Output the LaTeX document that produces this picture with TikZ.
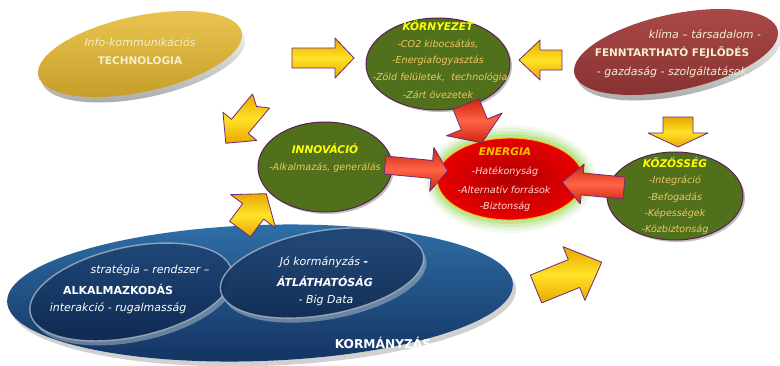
\documentclass[tikz,border=0pt]{standalone}
\usepackage{fontspec}
\setmainfont{DejaVu Sans}[BoldFont=* Bold, ItalicFont=* Oblique, BoldItalicFont=* Bold Oblique]
\usetikzlibrary{calc}
\definecolor{greenfill}{RGB}{80,112,28}
\definecolor{greenedge}{RGB}{92,31,85}
\definecolor{itemgold}{RGB}{240,200,96}
\definecolor{headyellow}{RGB}{255,255,0}
\definecolor{enred}{RGB}{232,0,0}
\definecolor{endark}{RGB}{175,0,0}
\definecolor{enhead}{RGB}{255,192,0}
\definecolor{enitem}{RGB}{255,216,216}
\definecolor{glowgreen}{RGB}{150,215,90}
\definecolor{goldtop}{RGB}{232,196,78}
\definecolor{goldbot}{RGB}{196,156,40}
\definecolor{marontop}{RGB}{170,72,72}
\definecolor{maronbot}{RGB}{134,48,48}
\definecolor{cream}{RGB}{242,240,206}
\definecolor{bluetop}{RGB}{46,110,166}
\definecolor{bluebot}{RGB}{19,50,96}
\definecolor{navytop}{RGB}{30,70,118}
\definecolor{navybot}{RGB}{14,40,80}
\definecolor{rimgrey}{RGB}{170,182,196}
\definecolor{arrowedge}{RGB}{112,40,120}
\definecolor{ylight}{RGB}{255,226,40}
\definecolor{ydark}{RGB}{232,168,0}
\definecolor{rlight}{RGB}{255,100,70}
\definecolor{rdark}{RGB}{205,35,15}
\newcommand{\fsitem}{\fontsize{9.6}{11}\selectfont}
\newcommand{\fshead}{\fontsize{10.6}{12}\selectfont}
\newcommand{\fsmid}{\fontsize{11}{13}\selectfont}
\newcommand{\fsmidb}{\fontsize{10.5}{12}\selectfont}
\newcommand{\fsbig}{\fontsize{11}{13}\selectfont}
\newcommand{\fshuge}{\fontsize{12.2}{14}\selectfont}
\newcommand{\barrow}[8]{%
  \begin{scope}[shift={(#2)},rotate=#3]
    \path[#1] (0,-#5) -- ({#4-#7},-#5) -- ({#4-#7},-#6) -- (#4,0) -- ({#4-#7},#6) -- ({#4-#7},#5) -- (0,#5) -- (#8,0) -- cycle;
  \end{scope}}
\begin{document}
\begin{tikzpicture}[x=1pt,y=-1pt,
  itemtxt/.style={font=\fsitem\itshape, text=itemgold, inner sep=0},
  headtxt/.style={font=\fshead\bfseries\itshape, text=headyellow, inner sep=0},
  entxt/.style={font=\fsitem\itshape, text=enitem, inner sep=0},
  yarrow/.style={draw=arrowedge, line width=0.8pt, line join=round, top color=ydark, bottom color=ydark, middle color=ylight},
  rarrow/.style={draw=arrowedge, line width=0.8pt, line join=round, top color=rdark, bottom color=rdark, middle color=rlight},
  greenell/.style={fill=greenfill, draw=greenedge, line width=1pt},
  shadowell/.style={fill=black, opacity=0.25},
  bluetxt/.style={text=white, inner sep=0}]
\useasboundingbox (0,0) rectangle (780,365);
\fill[white] (0,0) rectangle (780,365);

% ---------- centres ----------
\coordinate (techc) at (140,54);
\coordinate (fennc) at (676,52);
\coordinate (kornc) at (438,64);
\coordinate (innoc) at (325,167);
\coordinate (enc) at (510,179);
\coordinate (kozc) at (675,196);
\coordinate (kormc) at (260,293);
\coordinate (alkc) at (131,292);
\coordinate (atlc) at (322,273);

% ---------- KORMÁNYZÁS ----------
\fill[black, opacity=0.18, rotate around={2:(kormc)}] ($(kormc)+(3,5)$) ellipse (253 and 68);
\shade[top color=bluetop, bottom color=bluebot, rotate around={2:(kormc)}] (kormc) ellipse (253 and 68);
% ALKALMAZKODÁS
\fill[rimgrey, opacity=0.55, rotate around={12:(alkc)}] ($(alkc)+(2,5)$) ellipse (103 and 45);
\shade[top color=navytop, bottom color=navybot, rotate around={12:(alkc)}] (alkc) ellipse (103 and 45);
\draw[rimgrey, line width=1.4pt, opacity=0.8, rotate around={12:(alkc)}] (alkc) ellipse (103 and 45);
% ÁTLÁTHATÓSÁG
\fill[rimgrey, opacity=0.55, rotate around={10:(atlc)}] ($(atlc)+(2,5)$) ellipse (103 and 42);
\shade[top color=navytop, bottom color=navybot, opacity=0.95, rotate around={10:(atlc)}] (atlc) ellipse (103 and 42);
\draw[rimgrey, line width=1.4pt, opacity=0.8, rotate around={10:(atlc)}] (atlc) ellipse (103 and 42);

% ---------- TECHNOLOGIA ----------
\shade[top color=white, bottom color=gray!70, rotate around={12:(techc)}] ($(techc)+(2,6)$) ellipse (104 and 38);
\shade[top color=goldtop, bottom color=goldbot, rotate around={12:(techc)}] (techc) ellipse (104 and 38);

% ---------- FENNTARTHATÓ ----------
\shade[top color=white, bottom color=gray!70, rotate around={12:(fennc)}] ($(fennc)+(2,6)$) ellipse (104 and 38);
\shade[top color=marontop, bottom color=maronbot, rotate around={12:(fennc)}] (fennc) ellipse (104 and 38);

% ---------- green ellipses ----------
\fill[shadowell] ($(kornc)+(2,2)$) ellipse (72 and 46);
\draw[greenell] (kornc) ellipse (72 and 46);
\fill[shadowell] ($(innoc)+(2,2)$) ellipse (67 and 45);
\draw[greenell] (innoc) ellipse (67 and 45);
\fill[shadowell] ($(kozc)+(2,2)$) ellipse (68 and 44);
\draw[greenell] (kozc) ellipse (68 and 44);

% ---------- ENERGIA ----------
\foreach \d/\o in {13/0.10, 10/0.16, 7/0.24, 4/0.34}
  \fill[glowgreen, opacity=\o] (enc) ellipse ({73+\d} and {41+\d});
\shade[inner color=endark, outer color=enred] (enc) ellipse (73 and 41);
\draw[enhead, line width=0.9pt] (enc) ellipse (73 and 41);

% ---------- arrow end points ----------
\coordinate (a1) at (292,58);
\coordinate (a2) at (562,60);
\coordinate (a3) at (261,101);
\coordinate (a4) at (240,229);
\coordinate (a5) at (678,117);
\coordinate (a6) at (536,289);
\coordinate (a7) at (466,104);
\coordinate (a8) at (385,165);
\coordinate (a9) at (624,188);

% yellow arrows
\barrow{yarrow}{a1}{0}{62}{10}{20}{19}{0}
\barrow{yarrow}{a2}{180}{43}{10}{20}{21}{0}
\barrow{yarrow}{a3}{-129.8}{55}{11}{22}{22}{7}
\barrow{yarrow}{a4}{53.4}{44}{13}{28}{22}{0}
\barrow{yarrow}{a5}{-90}{30}{15}{30}{14}{0}
\barrow{yarrow}{a6}{22.2}{71}{15}{29}{30}{0}
% red arrows
\barrow{rarrow}{a7}{-67.7}{42}{14}{30}{20}{0}
\barrow{rarrow}{a8}{-5.4}{63}{9}{22}{16}{0}
\barrow{rarrow}{a9}{174.5}{62}{11}{20}{20}{0}

% ---------- texts ----------
\node[font=\fsmid\itshape, text=cream, inner sep=0] (tech1) at (140,42) {Info-kommunikációs};
\node[font=\fsmidb\bfseries, text=cream, inner sep=0] (tech2) at (140,61) {TECHNOLOGIA};

\node[font=\fsmid\itshape, text=cream, inner sep=0] (fenn1) at (705,34) {klíma – társadalom -};
\node[font=\fsmidb\bfseries, text=cream, inner sep=0] (fenn2) at (672,53) {FENNTARTHATÓ FEJLŐDÉS};
\node[font=\fsmid\itshape, text=cream, inner sep=0] (fenn3) at (672,72) {- gazdaság - szolgáltatások};

\node[headtxt] (korn0) at (438,26) {KÖRNYEZET};
\node[itemtxt] (korn1) at (438,44) {-CO2 kibocsátás,};
\node[itemtxt] (korn2) at (438,61) {-Energiafogyasztás};
\node[itemtxt] (korn3) at (440,78) {-Zöld felületek, ~technológia};
\node[itemtxt] (korn4) at (438,95) {-Zárt övezetek};

\node[headtxt] (inno0) at (325,149) {INNOVÁCIÓ};
\node[itemtxt] (inno1) at (325,168) {-Alkalmazás, generálás};

\node[headtxt, text=enhead] (en0) at (505,152) {ENERGIA};
\node[entxt] (en1) at (505,172) {-Hatékonyság};
\node[entxt] (en2) at (504,190) {-Alternatív források};
\node[entxt] (en3) at (505,207) {-Biztonság};

\node[headtxt] (koz0) at (675,163) {KÖZÖSSÉG};
\node[itemtxt] (koz1) at (675,181) {-Integráció};
\node[itemtxt] (koz2) at (675,198) {-Befogadás};
\node[itemtxt] (koz3) at (675,214) {-Képességek};
\node[itemtxt] (koz4) at (675,230) {-Közbiztonság};

\node[bluetxt, font=\fsmid\itshape] (alk1) at (150,270) {stratégia – rendszer –};
\node[bluetxt, font=\fsbig\bfseries] (alk2) at (118,289) {ALKALMAZKODÁS};
\node[bluetxt, font=\fsmid\itshape] (alk3) at (118,308) {interakció - rugalmasság};

\node[bluetxt, font=\fsmid\itshape] (atl1) at (324,262) {Jó kormányzás \textbf{-}};
\node[bluetxt, font=\fsbig\bfseries\itshape] (atl2) at (325,281) {ÁTLÁTHATÓSÁG};
\node[bluetxt, font=\fsmid\itshape] (atl3) at (326,300) {- Big Data};

\node[bluetxt, font=\fshuge\bfseries] (korm) at (383,343) {KORMÁNYZÁS};
\end{tikzpicture}
\end{document}
